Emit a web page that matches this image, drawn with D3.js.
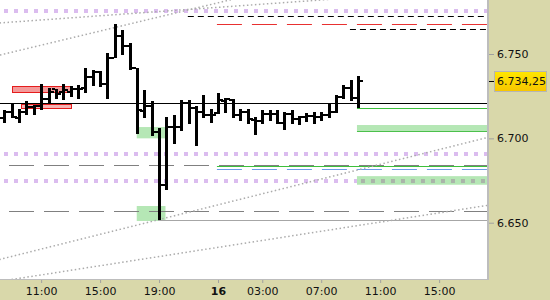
<!DOCTYPE html>
<html>
<head>
<meta charset="utf-8">
<script src="https://cdn.jsdelivr.net/npm/d3@7"></script>
<style>
body { margin: 0; background: #fff; }
text { font-family: "DejaVu Sans", Verdana, sans-serif; font-size: 11px; }
</style>
</head>
<body>
<script>
// 30 minute bars, index 0 = 08:30 of the 15th
var opens  = [6711.9,6715.6,6712,6715.6,6718.6,6719.2,6723.3,6729.2,6727.5,6727.5,6729.2,6729.8,6736.4,6739.3,6732.2,6747.6,6760.9,6754.9,6741.5,6716.2,6719.2,6703.7,6672.3,6706.7,6706.7,6720.9,6718,6715.6,6713.8,6715,6722.3,6722.7,6713.8,6715.6,6710.9,6710.4,6714.4,6714.4,6709.3,6714.4,6711.4,6712.5,6713.2,6712.8,6713.8,6715.8,6724.7,6729.8,6723.7];
var highs  = [6716.8,6720.3,6717.4,6722.1,6719.8,6732.2,6729.8,6729.2,6732.2,6731,6731.6,6741.7,6740.5,6739.9,6750.6,6767.6,6764.2,6756.3,6741.7,6728.6,6722.1,6706.1,6712.6,6713.8,6722.7,6722.7,6719.2,6725.7,6717.4,6726.9,6723.9,6723.3,6717.4,6717.4,6712.6,6716.8,6716.8,6716.8,6715.6,6716.8,6713.2,6715,6715.6,6715.6,6720.9,6725.7,6731.6,6734.6,6737];
var lows   = [6709.3,6711.9,6709.1,6713.8,6713.8,6716.8,6720.9,6723.3,6722.7,6724.5,6723.3,6726.9,6731,6730.4,6723.6,6747.6,6749.4,6740.5,6702.4,6712,6701.4,6651.5,6669.3,6696.6,6704.5,6708.5,6695.6,6712,6709.1,6714.4,6715,6712,6710.3,6708.5,6702,6708.5,6710.4,6708.5,6704.9,6708.5,6707.9,6709.7,6708.5,6710.4,6712,6715.2,6723.3,6722.3,6718];
var closes = [6715.4,6712.6,6715.6,6718.6,6719.2,6723.3,6727.5,6726.3,6728.6,6729.2,6729.2,6736.4,6739.3,6732.2,6747.6,6760.9,6754.9,6741.5,6716.8,6719.2,6703.7,6672.3,6706.7,6706.7,6720.9,6718,6715.8,6713.8,6713.8,6722.7,6723.1,6713.8,6715.8,6711.4,6710.4,6714.2,6714.4,6709.3,6714.2,6711.4,6712.5,6713.2,6712.8,6713.8,6715.8,6724.7,6729.8,6723.7,6734.25];

var timeTicks  = [5,13,21,29,35,43,51,59];
var timeLabels = ["11:00","15:00","19:00","16","03:00","07:00","11:00","15:00"];
var priceTicks = [6650,6700,6750];
var lastPrice = 6734.25;

// levels: [price, fromIndex]
var refLine      = 6720.8;
var pivotLevels  = [6775.5,6690.7,6674.7];
var greyDashes   = [6684.2,6657.1];
var lowLine      = [6651.4,20.86];
var redDash      = [6767.8,28.85];
var blueDash     = [6681.6,28.85];
var greenLine1   = [6683.6,28.85];
var blackDashes  = [[6772.5,24.9],[6764.6,46.9]];
var greenLine2   = [6717.8,47.85];
// zones: [fromIndex, toIndex, top, bottom]
var greenZones   = [[17.97,21.87,6706.7,6700.0],[17.97,21.87,6659.9,6651.0],[47.85,66,6707.9,6704.3],[47.85,66,6677.6,6672.5]];
var redZones     = [[1.09,9.05,6731.0,6727.6],[2.23,9.05,6720.3,6717.8]];
// trend lines: [i1, p1, i2, p2]
var trendLines   = [[0,6768.6,40,6781.1],[0,6750.0,30,6781.4],[0,6628.9,65,6699.9],[2,6617.0,65,6659.9]];

var W = 487, H = 279;
var svg = d3.select("body").append("svg")
  .attr("width", 550)
  .attr("height", 300)

svg.append("rect").attr("width",550).attr("height",300).attr("fill","#d9d8aa")
svg.append("rect").attr("width",W).attr("height",H).attr("fill","#fff")
svg.append("line").attr("x1",W+1).attr("x2",W+1).attr("y1",0).attr("y2",H+1)
  .attr("stroke","#bdbdbd").attr("stroke-width",2)
svg.append("line").attr("x1",0).attr("x2",W+2).attr("y1",H+0.5).attr("y2",H+0.5)
  .attr("stroke","#bdbdbd").attr("stroke-width",1)

var x = d3.scaleLinear().domain([0,66]).range([4.3,490.72])
var y = d3.scaleLinear().domain([6650,6750]).range([222.7,54])
var loc = d3.formatLocale({decimal:",", thousands:".", grouping:[3], currency:["",""]})

svg.append("clipPath").attr("id","clip").append("rect").attr("width",W).attr("height",H)
var plot = svg.append("g").attr("clip-path","url(#clip)")

function hline(p, from, color, dash, width, offset) {
  var yy = Math.round(y(p)) + (width % 2 ? 0.5 : 0)
  return plot.append("line")
    .attr("x1", from == null ? 0 : x(from)).attr("x2", W)
    .attr("y1", yy).attr("y2", yy)
    .attr("stroke", color).attr("stroke-width", width)
    .attr("stroke-dasharray", dash).attr("stroke-dashoffset", offset || 0)
}

// zones
plot.selectAll(".gz").data(greenZones).enter().append("rect")
  .attr("x", d => x(d[0])).attr("width", d => x(d[1]) - x(d[0]))
  .attr("y", d => y(d[2])).attr("height", d => y(d[3]) - y(d[2]))
  .attr("fill","#b5e7b5")
plot.append("line").attr("x1",x(greenZones[2][0])).attr("x2",W)
  .attr("y1",Math.round(y(greenZones[2][3]))+0.5).attr("y2",Math.round(y(greenZones[2][3]))+0.5)
  .attr("stroke","#4cc04c")

// purple pivots
pivotLevels.forEach(function(p, k) {
  var l = hline(p, null, "#dbbcef", "4,6", 4, -4)
  if (k == 2) l.attr("x2", x(greenZones[3][0]))
})
hline(pivotLevels[2], greenZones[3][0], "#a9b4a9", "4,6", 4, -4)

greyDashes.forEach(p => hline(p, null, "#808080", "25,10", 1, 26))
hline(lowLine[0], lowLine[1], "#a6a6a6", null, 1)
hline(greenLine1[0], greenLine1[1], "#3cc03c", null, 1)
hline(blueDash[0], blueDash[1], "#6a9ce6", "25,10", 1)
hline(redDash[0], redDash[1], "#e83030", "25,10", 1)
blackDashes.forEach(d => hline(d[0], d[1], "#000", "6,4", 1))
hline(greenLine2[0], greenLine2[1], "#3cc03c", null, 1)

plot.selectAll(".rz").data(redZones).enter().append("rect")
  .attr("x", d => Math.round(x(d[0])) + 0.5).attr("width", d => Math.round(x(d[1]) - x(d[0])))
  .attr("y", d => Math.round(y(d[2])) + 0.5).attr("height", d => Math.round(y(d[3]) - y(d[2])))
  .attr("fill", (d,i) => i == 0 ? "#f39a9a" : "#f6b3b3")
  .attr("stroke","#e51c1c")

// trend lines
plot.selectAll(".tl").data(trendLines).enter().append("line")
  .attr("x1", d => x(d[0]) - 300*(x(d[2])-x(d[0]))/(x(d[2])-x(d[0])) ) // extend left
  .attr("y1", d => y(d[1]) - 300*(y(d[3])-y(d[1]))/(x(d[2])-x(d[0])))
  .attr("x2", d => x(d[2]) + 300).attr("y2", d => y(d[3]) + 300*(y(d[3])-y(d[1]))/(x(d[2])-x(d[0])))
  .attr("stroke","#ababab").attr("stroke-width",1.5).attr("stroke-dasharray","1.5,2.5")

hline(refLine, null, "#000", null, 1)

// bars
var bars = plot.selectAll(".bar").data(opens.map((o,i) => ({i:i,o:o,h:highs[i],l:lows[i],c:closes[i]})))
  .enter().append("g").attr("shape-rendering","crispEdges")
bars.append("rect")
  .attr("x", d => Math.round(x(d.i)) - 1).attr("width", 3)
  .attr("y", d => Math.round(y(d.h))).attr("height", d => Math.max(2, Math.round(y(d.l) - y(d.h))))
bars.append("rect")
  .attr("x", d => Math.round(x(d.i)) - 4).attr("width", 3)
  .attr("y", d => Math.round(y(d.o)) - 1).attr("height", 2)
bars.append("rect")
  .attr("x", d => Math.round(x(d.i)) + 2).attr("width", 3)
  .attr("y", d => Math.round(y(d.c)) - 1).attr("height", 2)

// axes
var yAxis = svg.append("g").attr("transform","translate(489,0)")
  .call(d3.axisRight(y).tickValues(priceTicks).tickSize(5).tickPadding(3).tickFormat(loc.format(",.0f")))
var xAxis = svg.append("g").attr("transform","translate(0,280)")
  .call(d3.axisBottom(x).tickValues(timeTicks).tickSize(3).tickPadding(4).tickFormat((d,i) => timeLabels[i]))
svg.selectAll(".domain").remove()
svg.selectAll(".tick line").attr("stroke","#a0a0a0")
svg.selectAll(".tick text").attr("fill","#111").style("font-size","11px")
xAxis.selectAll(".tick text").filter((d,i) => timeLabels[i] == "16").attr("font-weight","bold")

// last price tag
var grad = svg.append("defs").append("linearGradient").attr("id","yel").attr("x2",0).attr("y2",1)
grad.append("stop").attr("offset",0).attr("stop-color","#ffe600")
grad.append("stop").attr("offset",1).attr("stop-color","#f7c600")
var ly = y(lastPrice)
svg.append("line").attr("x1",489).attr("x2",494).attr("y1",Math.round(ly)+0.5).attr("y2",Math.round(ly)+0.5).attr("stroke","#000")
svg.append("rect").attr("x",494.5).attr("y",Math.round(ly)-9.5).attr("width",52).attr("height",20)
  .attr("fill","url(#yel)").attr("stroke","#b5b5b5")
svg.append("text").attr("x",497).attr("y",ly).attr("dy","0.36em").attr("fill","#111")
  .text(loc.format(",.2f")(lastPrice))
</script>
</body>
</html>
